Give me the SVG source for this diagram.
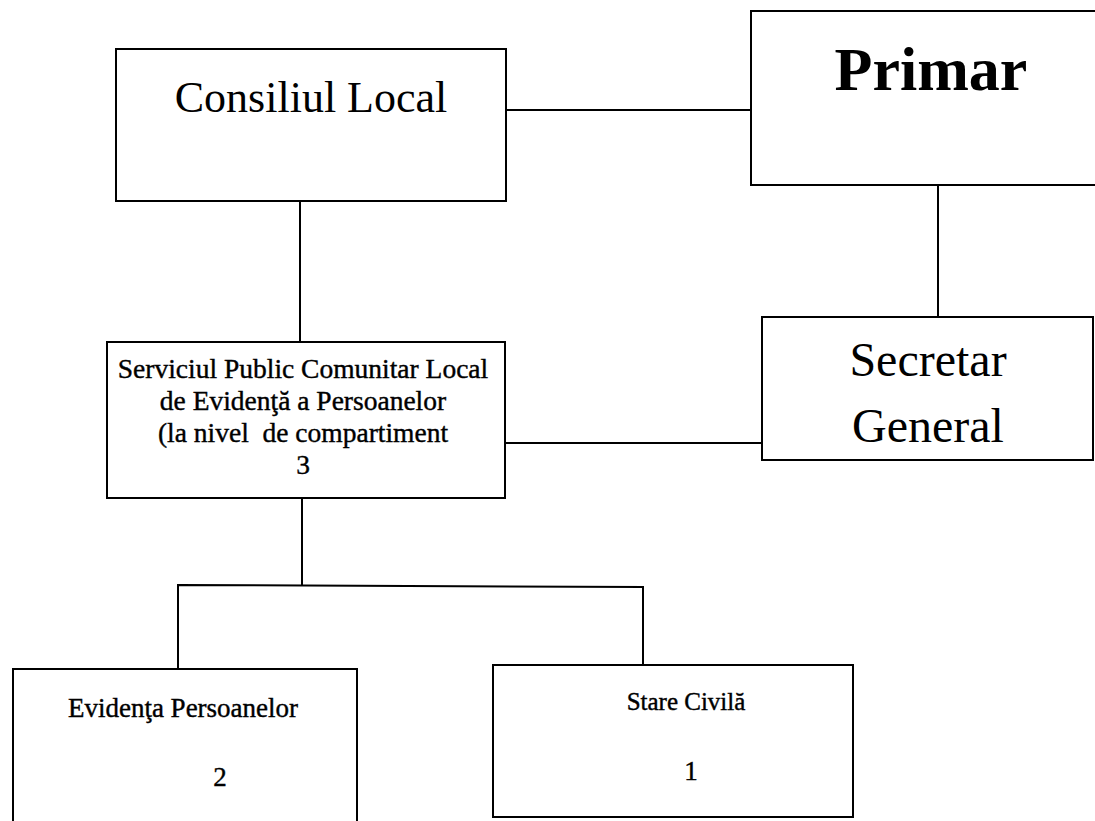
<svg xmlns="http://www.w3.org/2000/svg" width="1095" height="821" viewBox="0 0 1095 821">
<style>
.box{fill:#fff;stroke:#000;stroke-width:2}
.ln{fill:none;stroke:#000;stroke-width:2}
.t{font-family:"Liberation Serif","Times New Roman",serif;fill:#000;text-anchor:middle}
.s{stroke:#000;stroke-width:0.4}
</style>
<rect width="1095" height="821" fill="#fff"/>
<g id="connectors">
<line class="ln" x1="506" y1="110" x2="751" y2="110"/>
<line class="ln" x1="300" y1="201" x2="300" y2="342"/>
<line class="ln" x1="938" y1="185" x2="938" y2="317"/>
<line class="ln" x1="505" y1="443" x2="762" y2="443"/>
<polyline class="ln" points="302,498 302,585"/>
<polyline class="ln" points="178,669 178,585 643,587 643,665"/>
</g>
<g id="consiliul">
<rect class="box" x="116" y="49" width="390" height="152"/>
<text class="t" x="311" y="112" font-size="44">Consiliul Local</text>
</g>
<g id="primar">
<rect class="box" x="751" y="11" width="360" height="174"/>
<text class="t" x="931" y="90" font-size="62" font-weight="bold">Primar</text>
</g>
<g id="serviciul">
<rect class="box" x="107" y="342" width="398" height="156"/>
<text class="t s" x="303" y="378" font-size="27.5">Serviciul Public Comunitar Local</text>
<text class="t s" x="303" y="410" font-size="27.5">de Evidenţă a Persoanelor</text>
<text class="t s" x="303" y="442" font-size="27.5" xml:space="preserve">(la nivel  de compartiment</text>
<text class="t s" x="303" y="474" font-size="27.5">3</text>
</g>
<g id="secretar">
<rect class="box" x="762" y="317" width="331" height="143"/>
<text class="t" x="928" y="376" font-size="48">Secretar</text>
<text class="t" x="928" y="442" font-size="48">General</text>
</g>
<g id="evidenta">
<rect class="box" x="13" y="669" width="344" height="170"/>
<text class="t s" x="183" y="717" font-size="27">Evidenţa Persoanelor</text>
<text class="t s" x="220" y="786" font-size="27">2</text>
</g>
<g id="stare">
<rect class="box" x="493" y="665" width="360" height="152"/>
<text class="t s" x="686" y="710" font-size="25">Stare Civilă</text>
<text class="t s" x="691" y="780" font-size="27">1</text>
</g>
</svg>
